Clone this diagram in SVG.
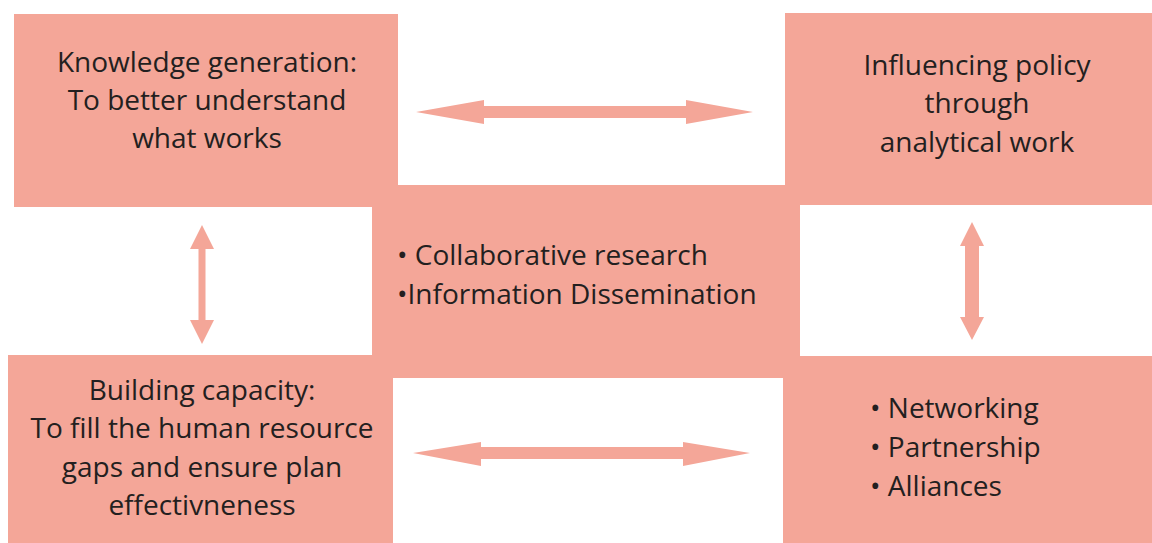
<svg xmlns="http://www.w3.org/2000/svg" width="1152" height="543" viewBox="0 0 1152 543">
<style>
.box{fill:#f4a698}
.arr{fill:#f4a698}
.t{font-family:"Open Sans","Liberation Sans",sans-serif;font-size:28px;fill:#231f20}
.c{text-anchor:middle}
</style>
<rect width="1152" height="543" fill="#ffffff"/>
<g id="center">
<rect class="box" x="372" y="185" width="428" height="193"/>
<text class="t" x="397" y="265">• Collaborative research</text>
<text class="t" x="397" y="304">•Information Dissemination</text>
</g>
<g id="knowledge">
<rect class="box" x="14" y="14" width="384" height="193"/>
<text class="t c" x="207" y="72">Knowledge generation:</text>
<text class="t c" x="207" y="110">To better understand</text>
<text class="t c" x="207" y="148">what works</text>
</g>
<g id="policy">
<rect class="box" x="785" y="13" width="367" height="192"/>
<text class="t c" x="977" y="75">Influencing policy</text>
<text class="t c" x="977" y="113">through</text>
<text class="t c" x="977" y="152">analytical work</text>
</g>
<g id="capacity">
<rect class="box" x="8" y="355" width="385" height="188"/>
<text class="t c" x="202" y="400">Building capacity:</text>
<text class="t c" x="202" y="438">To fill the human resource</text>
<text class="t c" x="202" y="477">gaps and ensure plan</text>
<text class="t c" x="202" y="515">effectivneness</text>
</g>
<g id="networking">
<rect class="box" x="783" y="356" width="369" height="187"/>
<text class="t" x="870" y="418">• Networking</text>
<text class="t" x="870" y="457">• Partnership</text>
<text class="t" x="870" y="496">• Alliances</text>
</g>
<g id="connectors">
<polygon class="arr" points="416,112 484,100 484,106 686,106 686,100 753,112 686,124 686,118 484,118 484,124"/>
<polygon class="arr" points="413,453 481,442 481,447 683,447 683,442 750,453 683,466 683,459 481,459 481,466"/>
<polygon class="arr" points="202,225 214,249 205.5,249 205.5,320 214,320 202,344 190,320 198.5,320 198.5,249 190,249"/>
<polygon class="arr" points="972,222 984,246 979,246 979,317 984,317 972,340 960,317 965,317 965,246 960,246"/>
</g>
</svg>
